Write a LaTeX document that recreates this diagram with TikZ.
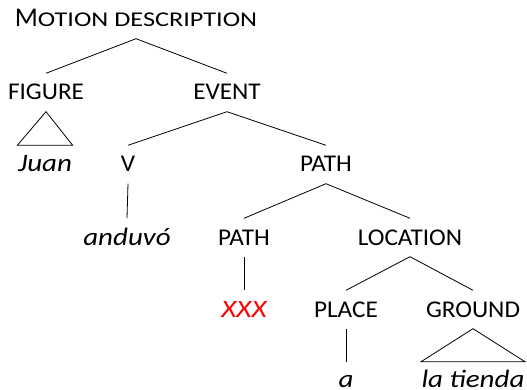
\documentclass[tikz,border=0pt]{standalone}
\usepackage{fontspec}
\usepackage{graphicx}
\setmainfont{Carlito}
\newcommand{\lb}[1]{\scalebox{1.05}[1]{\fontsize{24}{26}\selectfont #1}}
\newcommand{\wdit}[1]{\scalebox{1.16}[1]{\fontsize{25}{27}\selectfont\itshape #1}}
\begin{document}
\begin{tikzpicture}[x=1pt,y=-1pt,
  lab/.style={anchor=base,inner xsep=0.5pt,inner ysep=11.5pt,text height=15pt,text depth=0pt},
  edge/.style={draw=black,line width=0.8pt}]
\useasboundingbox (0,0) rectangle (527,390);
\node[lab] (root) at (136,27) {\fontsize{27}{28}\selectfont M\scalebox{1.25}[1]{\fontsize{21}{22}\selectfont OTION DESCRIPTION}};
\node[lab] (fig) at (46,100) {\lb{FIGURE}};
\node[lab] (ev) at (227,100) {\lb{EVENT}};
\node[lab] (juan) at (45,172) {\wdit{Juan}};
\node[lab] (v) at (128,172) {\lb{V}};
\node[lab] (p1) at (326,172) {\lb{PATH}};
\node[lab] (and) at (127,245) {\wdit{anduvó}};
\node[lab] (p2) at (244,245) {\lb{PATH}};
\node[lab] (loc) at (410,245) {\lb{LOCATION}};
\node[lab,text=red] (xxx) at (244,317) {\wdit{XXX}};
\node[lab] (pl) at (346,317) {\lb{PLACE}};
\node[lab] (gr) at (473,317) {\lb{GROUND}};
\node[lab,inner ysep=10pt] (a) at (346,387) {\wdit{a}};
\node[lab,inner ysep=10pt] (lt) at (473,387) {\wdit{la tienda}};
\draw[edge] (root.south) -- (fig.north);
\draw[edge] (root.south) -- (ev.north);
\draw[edge] (fig.south) -- (juan.north west) -- (juan.north east) -- cycle;
\draw[edge] (ev.south) -- (v.north);
\draw[edge] (ev.south) -- (p1.north);
\draw[edge] (v.south) -- (and.north);
\draw[edge] (p1.south) -- (p2.north);
\draw[edge] (p1.south) -- (loc.north);
\draw[edge] (p2.south) -- (xxx.north);
\draw[edge] (loc.south) -- (pl.north);
\draw[edge] (loc.south) -- (gr.north);
\draw[edge] (pl.south) -- (a.north);
\draw[edge] (gr.south) -- (lt.north west) -- (lt.north east) -- cycle;
\end{tikzpicture}
\end{document}
